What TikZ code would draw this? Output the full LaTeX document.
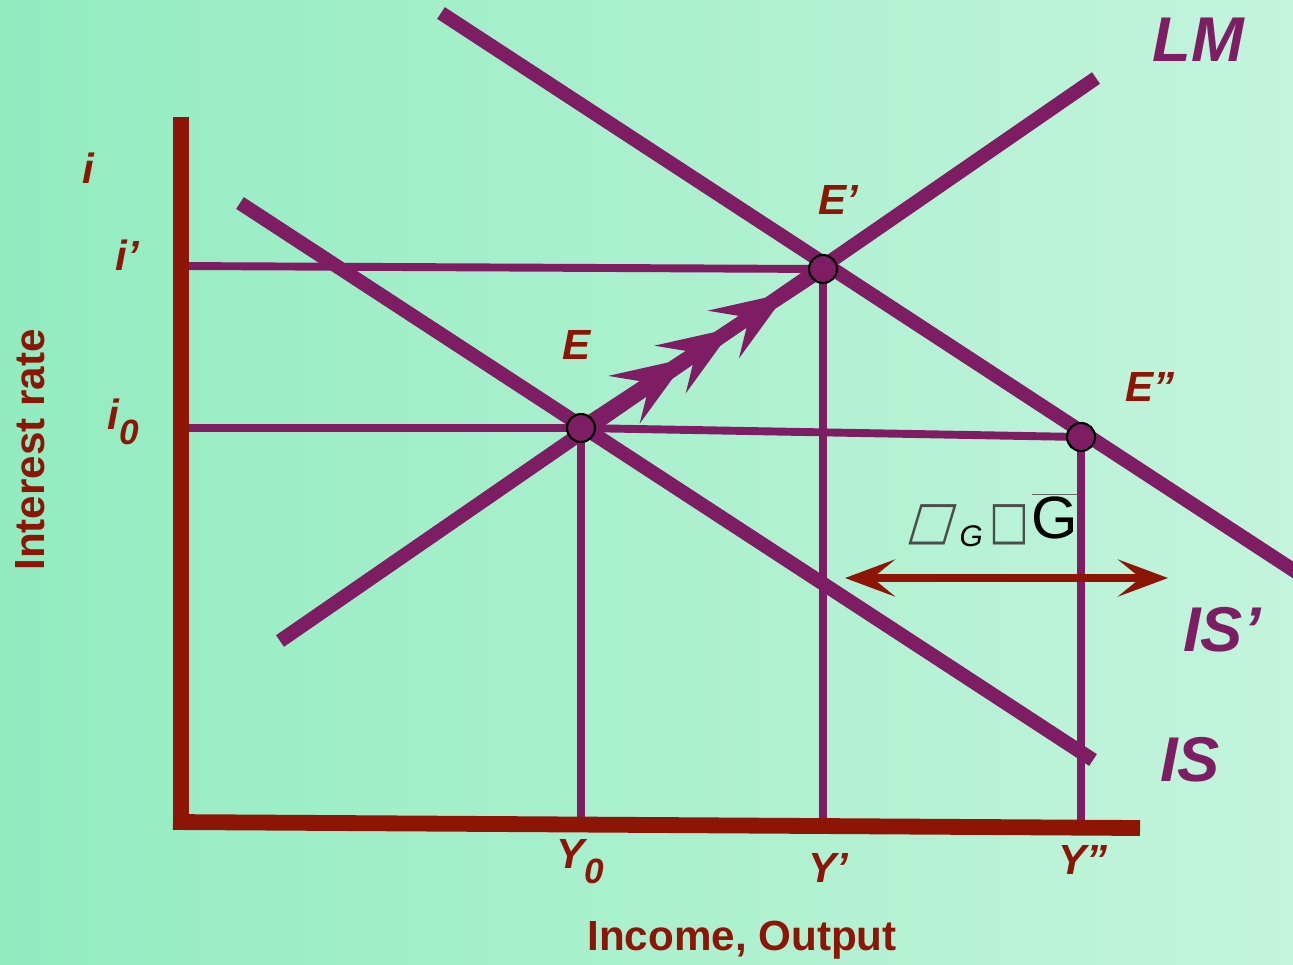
\documentclass[tikz,border=0pt]{standalone}
\usepackage{fontspec}
\setmainfont{Liberation Sans}
\newfontfamily\symfont[FakeStretch=0.8]{DejaVu Sans}
\newfontfamily\slsymfont[FakeSlant=0.3,FakeStretch=0.9]{DejaVu Sans}
\usetikzlibrary{arrows.meta}
\usetikzlibrary{decorations.markings, math}
\definecolor{curvepurple}{RGB}{126,29,99}
\definecolor{axisred}{RGB}{140,21,5}
\definecolor{bgleft}{RGB}{146,236,192}
\definecolor{bgright}{RGB}{195,244,221}

\begin{document}
\begin{tikzpicture}[x=0.02cm,y=-0.02cm,
  curve/.style={curvepurple, line width=8pt},
  guide/.style={curvepurple, line width=4.5pt, line cap=round},
  axis/.style={axisred, line width=9pt},
  lbl/.style={axisred, font=\fontsize{24}{24}\selectfont\bfseries\itshape},
  cname/.style={curvepurple, font=\fontsize{36}{36}\selectfont\bfseries\itshape},
  eqpt/.style={circle, draw=black, fill=curvepurple, line width=1.2pt, inner sep=0pt, minimum size=0.56cm}]
\tikzmath{
\xa=581; \xb=823; \xc=1081;
}
\shade[left color=bgleft, right color=bgright] (0,0) rectangle (1293,964);
\useasboundingbox (0,0) rectangle (1293,964);

\coordinate (E) at (\xa,428);
\coordinate (Ep) at (\xb,269);
\coordinate (Epp) at (\xc,437);

% guide lines
\draw[guide] (187,428) -- (E) -- (Epp);
\draw[guide] (180,266) -- (Ep);
\draw[guide] (E) -- (\xa,820);
\draw[guide] (Ep) -- (\xb,825);
\draw[guide] (Epp) -- (\xc,825);

% IS, IS', LM
\draw[curve] (240,203) -- (1093,760);
\draw[curve] (441,13) -- (1310,581);
\draw[curve] (280,641) -- (1096,78);
\draw[curve, postaction={decorate}, decoration={markings,
  mark=at position 0.44 with {\arrow[curvepurple]{Stealth[length=1.5cm,width=1.12cm,inset=0.6cm]}},
  mark=at position 0.63 with {\arrow[curvepurple]{Stealth[length=1.5cm,width=1.12cm,inset=0.6cm]}},
  mark=at position 0.85 with {\arrow[curvepurple]{Stealth[length=1.5cm,width=1.12cm,inset=0.6cm]}}}]
  (E) -- (Ep);

% axes
\draw[axis] (181,117) -- (181,829);
\draw[axis] (173,822) -- (1140,828);

\node[eqpt] (pE) at (E) {};
\node[eqpt] (pEp) at (Ep) {};
\node[eqpt] (pEpp) at (Epp) {};

% shift of IS
\coordinate (dl) at (845,578);
\coordinate (dr) at (1168,578);
\draw[axisred, line width=4.5pt,
  {Stealth[length=1cm,width=0.74cm,inset=0.45cm]}-{Stealth[length=1cm,width=0.74cm,inset=0.45cm]}] (dl) -- (dr);
\node (shift) at (992,520) {{\slsymfont\fontsize{30}{30}\selectfont\color{black!70}□}\kern5pt\raisebox{-0.5em}{\fontsize{17}{17}\selectfont\itshape G}\kern4pt{\symfont\fontsize{30}{30}\selectfont\color{black!70}□}\kern1pt$\color{black!60}\overline{\hbox{\color{black}\fontsize{34}{34}\selectfont G}}$};

% labels
\node[lbl] (li) at (88,168) {i};
\node[lbl] (lip) at (127,255) {i’};
\node[lbl] (li0) at (123,422) {i\raisebox{-0.35em}{\fontsize{20}{20}\selectfont 0}};
\node[axisred, font=\fontsize{24}{24}\selectfont\bfseries, rotate=90] (yname) at (30,450) {Interest rate};
\node[lbl] (ly0) at (580,862) {Y\raisebox{-0.35em}{\fontsize{20}{20}\selectfont 0}};
\node[lbl] (lyp) at (828,868) {Y’};
\node[lbl] (lypp) at (1083,860) {Y”};
\node[axisred, font=\fontsize{24}{24}\selectfont\bfseries] (xname) at (742,940) {Income, Output};
\node[lbl] (lE) at (577,345) {E};
\node[lbl] (lEp) at (838,200) {E’};
\node[lbl] (lEpp) at (1150,387) {E”};
\node[cname] (lLM) at (1198,40) {LM};
\node[cname] (lISp) at (1222,630) {IS’};
\node[cname] (lIS) at (1190,760) {IS};
\end{tikzpicture}
\end{document}
